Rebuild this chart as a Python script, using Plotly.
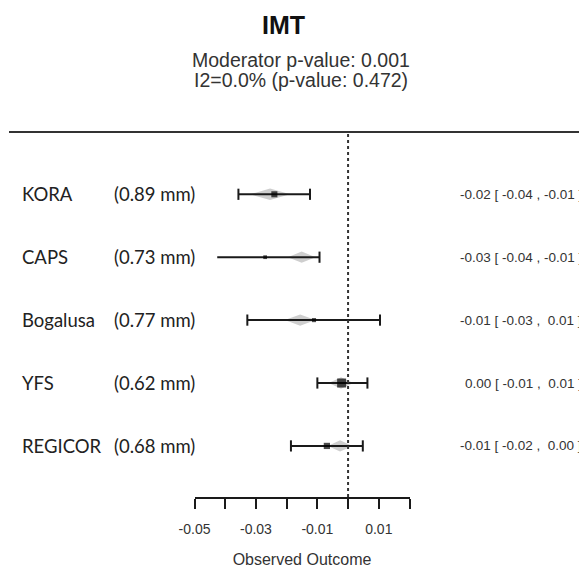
import plotly.graph_objects as go

# ---------------- data ----------------
studies = ["KORA", "CAPS", "Bogalusa", "YFS", "REGICOR"]
mean_imt = ["(0.89 mm)", "(0.73 mm)", "(0.77 mm)", "(0.62 mm)", "(0.68 mm)"]
estimate = [-0.0240, -0.0270, -0.0111, -0.0021, -0.0069]
ci_lower = [-0.0357, -0.0426, -0.0328, -0.0100, -0.0186]
ci_upper = [-0.0124, -0.0093, 0.0104, 0.0063, 0.0048]
weights = [19.7, 7.5, 9.0, 43.1, 20.7]
fitted = [-0.0254, -0.0151, -0.0156, -0.0023, -0.0026]
fitted_halfwidth = [0.0065, 0.0045, 0.0050, 0.0040, 0.0040]
ci_text = ["-0.02 [ -0.04 , -0.01 ]",
           "-0.03 [ -0.04 , -0.01 ]",
           "-0.01 [ -0.03 ,  0.01 ]",
           "0.00 [ -0.01 ,  0.01 ]",
           "-0.01 [ -0.02 ,  0.00 ]"]
tick_vals = [-0.05, -0.04, -0.03, -0.02, -0.01, 0.0, 0.01, 0.02]
tick_text = ["-0.05", "", "-0.03", "", "-0.01", "", "0.01", ""]
title = "IMT"
subtitle1 = "Moderator p-value: 0.001"
subtitle2 = "I2=0.0% (p-value: 0.472)"
x_title = "Observed Outcome"

# ---------------- styles ----------------
PAGE_W, PAGE_H = 587, 571
OFF = 8                      # page body margin
W, H = PAGE_W - OFF, PAGE_H - OFF
ARIAL = "Liberation Sans"
LEFTFONT = "Lato"
INK = "#1a1a1a"
left_cap = [True, False, True, True, True]


def px(xp):
    return (xp - OFF) / W


def py(yp):
    return 1 - (yp - OFF) / H


rows = list(range(len(studies)))

fig = go.Figure()

# grey fitted-value diamonds
dx, dy = [], []
for i, (c, h) in enumerate(zip(fitted, fitted_halfwidth)):
    dx += [c - h, c, c + h, c, c - h, None]
    dy += [i, i - 0.09, i, i + 0.09, i, None]
fig.add_trace(go.Scatter(x=dx, y=dy, mode="lines", fill="toself",
                         fillcolor="rgba(165,165,165,0.55)",
                         line=dict(width=0, color="rgba(0,0,0,0)"),
                         hoverinfo="skip", showlegend=False, cliponaxis=False))

# CI lines
lx, ly = [], []
for i, (lo, hi) in enumerate(zip(ci_lower, ci_upper)):
    lx += [lo, hi, None]
    ly += [i, i, None]
fig.add_trace(go.Scatter(x=lx, y=ly, mode="lines",
                         line=dict(color=INK, width=2),
                         hoverinfo="skip", showlegend=False, cliponaxis=False))

# CI caps
cx, cy = [], []
for i, (lo, hi) in enumerate(zip(ci_lower, ci_upper)):
    if left_cap[i]:
        cx.append(lo); cy.append(i)
    cx.append(hi); cy.append(i)
fig.add_trace(go.Scatter(x=cx, y=cy, mode="markers",
                         marker=dict(symbol="line-ns", size=8,
                                     line=dict(color=INK, width=2)),
                         hoverinfo="skip", showlegend=False, cliponaxis=False))

# point estimates (size by weight)
wmax = max(weights)
sizes = [9 * (w / wmax) ** 0.5 for w in weights]
fig.add_trace(go.Scatter(x=estimate, y=rows, mode="markers",
                         marker=dict(symbol="square", size=sizes, color="black",
                                     line=dict(width=0)),
                         showlegend=False, cliponaxis=False))

# reference lines
fig.add_shape(type="line", xref="x", yref="y domain", x0=0, x1=0, y0=0, y1=1,
              line=dict(color="#333", width=2, dash="dot"))
fig.add_shape(type="line", xref="paper", yref="y domain", x0=px(9), x1=1, y0=1, y1=1,
              line=dict(color="#333", width=2))

ann = []
for i in rows:
    ann.append(dict(x=px(20), xref="paper", y=i, yref="y", text=studies[i],
                    xanchor="left", yanchor="middle", showarrow=False,
                    font=dict(family=LEFTFONT, size=18.5, color="#222")))
    ann.append(dict(x=px(112), xref="paper", y=i, yref="y", text=mean_imt[i],
                    xanchor="left", yanchor="middle", showarrow=False,
                    font=dict(family=LEFTFONT, size=18.5, color="#222")))
    ann.append(dict(x=px(584), xref="paper", y=i, yref="y",
                    text=ci_text[i].replace("  ", "\u00a0 "),
                    xanchor="right", yanchor="middle", showarrow=False,
                    font=dict(family=ARIAL, size=13.5, color="#333")))

ann.append(dict(x=px(283.5), xref="paper", y=py(25), yref="paper", text="<b>" + title + "</b>",
                xanchor="center", yanchor="middle", showarrow=False,
                font=dict(family=ARIAL, size=25, color="#111")))
ann.append(dict(x=px(301), xref="paper", y=py(60), yref="paper", text=subtitle1,
                xanchor="center", yanchor="middle", showarrow=False,
                font=dict(family=ARIAL, size=19.5, color="#333")))
ann.append(dict(x=px(301), xref="paper", y=py(80), yref="paper", text=subtitle2,
                xanchor="center", yanchor="middle", showarrow=False,
                font=dict(family=ARIAL, size=19.5, color="#333")))

fig.update_layout(
    template="none",
    width=W, height=H,
    margin=dict(l=0, r=0, t=0, b=0, pad=0, autoexpand=False),
    paper_bgcolor="white", plot_bgcolor="white",
    annotations=ann,
    xaxis=dict(domain=[px(194.5), px(409.5)], range=[-0.05, 0.02],
               automargin=False,
               showgrid=False, zeroline=False,
               showline=True, linewidth=2, linecolor=INK,
               ticks="outside", ticklen=10, tickwidth=2, tickcolor=INK,
               tickvals=tick_vals, ticktext=tick_text,
               ticklabelstandoff=8,
               tickfont=dict(family=ARIAL, size=14, color="#333"),
               title=dict(text=x_title, standoff=18,
                          font=dict(family=ARIAL, size=16, color="#333"))),
    yaxis=dict(domain=[py(497), py(132)], range=[4.812, -0.990],
               automargin=False,
               visible=False, showgrid=False, zeroline=False),
)

fig.write_html("out.html")
